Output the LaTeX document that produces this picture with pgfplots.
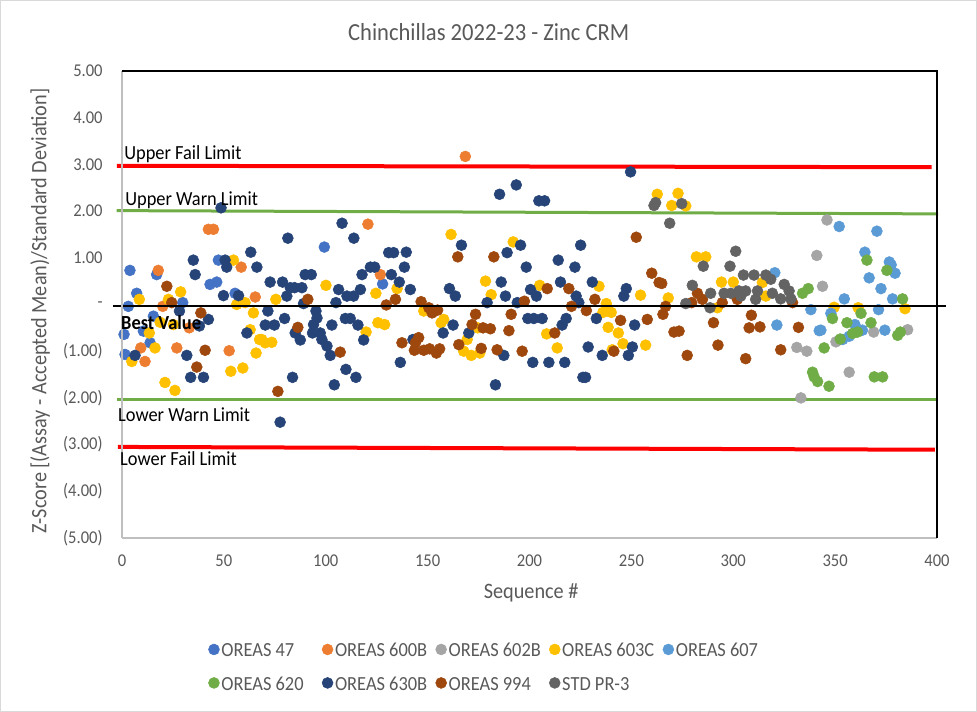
\documentclass[border=0pt]{standalone}
\usepackage{pgfplots}
\pgfplotsset{compat=1.18}
\usepackage{fontspec}
\setmainfont{Carlito}[FakeStretch=0.92]
\definecolor{cA}{HTML}{4472C4}
\definecolor{cB}{HTML}{ED7D31}
\definecolor{cC}{HTML}{A5A5A5}
\definecolor{cD}{HTML}{FFC000}
\definecolor{cE}{HTML}{5B9BD5}
\definecolor{cF}{HTML}{70AD47}
\definecolor{cG}{HTML}{264478}
\definecolor{cH}{HTML}{9E480E}
\definecolor{cI}{HTML}{636363}
\definecolor{txtgray}{HTML}{595959}
\definecolor{axgray}{HTML}{BFBFBF}
\definecolor{bordergray}{HTML}{D9D9D9}
\definecolor{limred}{HTML}{FF0000}
\definecolor{limgreen}{HTML}{70AD47}
\newcommand{\legtxt}[1]{\makebox[74pt][l]{\strut #1}}
\begin{document}
\begin{tikzpicture}
\begin{axis}[
  set layers,
  scale only axis, width=611.25pt, height=350.25pt,
  xmin=0, xmax=400, ymin=-5, ymax=5,
  clip=false,
  axis line style={draw=none},
  xtick={0,50,...,400}, ytick={-5,-4,...,5},
  yticklabels={(5.00),(4.00),(3.00),(2.00),(1.00),-,1.00,2.00,3.00,4.00,5.00},
  major tick length=0pt,
  /pgf/number format/assume math mode=true,
  tick label style={font=\fontsize{13.5}{16}\selectfont, text=txtgray},
  xticklabel style={yshift=-9pt},
  yticklabel style={xshift=-11pt},
  title={Chinchillas 2022-23 - Zinc CRM},
  title style={at={(axis description cs:0.450,1.0835)}, anchor=center, yshift=-6pt, font=\fontsize{18.4}{22}\selectfont, text=txtgray},
  xlabel={Sequence \#},
  xlabel style={at={(axis description cs:0.502,-0.1178)}, anchor=center, font=\fontsize{16.5}{20}\selectfont, text=txtgray},
  ylabel={Z-Score [(Assay - Accepted Mean)/Standard Deviation]},
  ylabel style={at={(axis description cs:-0.1006,0.486)}, anchor=center, font=\fontsize{16.5}{20}\selectfont, text=txtgray},
  legend columns=5,
  legend style={at={(axis description cs:0.4546,-0.2745)}, anchor=center, draw=none, fill=none,
    font=\fontsize{15}{18}\selectfont, text=txtgray, nodes={inner sep=1.5pt}, row sep=8pt},
  legend image code/.code={\draw[#1] plot coordinates {(0pt,0pt)};},
  every axis plot/.append style={only marks, mark=*, mark size=4.1pt},
]
% limit lines (drawn beneath the points)
\addplot[forget plot, no markers, sharp plot, draw=limred, line width=3pt] coordinates {(-2.5,2.97) (397.4,2.94)};
\addplot[forget plot, no markers, sharp plot, draw=limgreen, line width=2.25pt] coordinates {(-2.6,2.01) (400.5,1.94)};
\addplot[forget plot, no markers, sharp plot, draw=limgreen, line width=2.25pt] coordinates {(-2.6,-2.03) (400.5,-2.03)};
\addplot[forget plot, no markers, sharp plot, draw=limred, line width=3pt] coordinates {(-2.0,-3.05) (399.0,-3.11)};

\addplot[mark options={draw=cA, fill=cA}] coordinates {
(3.9,0.73) (17,0.64) (47.3,0.95) (43.2,0.43) (46.5,0.48) (7.2,0.24) (55.5,0.24) (3.1,-0.04)
(29.8,0.04) (15.4,-0.25) (1,-0.64) (10.5,-0.57) (13.8,-0.82) (1.5,-1.07) (99.3,1.23) (127.9,0.44)};
\addlegendentry{\legtxt{OREAS 47}}
\addplot[mark options={draw=cB, fill=cB}] coordinates {
(42.4,1.61) (44.9,1.61) (17.8,0.73) (65.4,0.16) (20,-0.04) (33,-0.50) (9.2,-0.93) (26.9,-0.93)
(52.6,-0.99) (11.3,-1.22) (120.7,1.72) (126.8,0.64) (168.5,3.17) (58.5,0.80)};
\addlegendentry{\legtxt{OREAS 600B}}
\addplot[mark options={draw=cC, fill=cC}] coordinates {
(346,1.81) (341,1.05) (343.8,0.39) (331.2,-0.92) (336.1,-1.00) (333.2,-2.00) (350.4,-0.80)
(356.9,-1.45) (368.9,-0.59) (385.6,-0.54)};
\addlegendentry{\legtxt{OREAS 602B}}
\addplot[mark options={draw=cD, fill=cD}] coordinates {
(8.5,0.11) (28.8,0.27) (54.7,0.95) (22.8,0.11) (56.3,0) (60.4,0.04) (64.5,-0.18) (18.7,-0.38)
(25.2,-0.43) (13.4,-0.61) (62.9,-0.54) (67.5,-0.75) (16.2,-0.93) (65.8,-1.04) (4.8,-1.22)
(53.4,-1.43) (59.3,-1.36) (21.1,-1.67) (26,-1.84)
(100.1,0.41) (75.5,0.11) (135,0.34) (124.6,0.24) (125.6,-0.39) (128.9,-0.43) (119.8,-0.59)
(68.6,-0.75) (70.3,-0.82) (73.5,-0.81)
(161.5,1.50) (192,1.34) (178.4,0.50) (181.2,0.21) (205,0.41) (148.1,-0.14) (157.9,-0.32)
(156.6,-0.39) (174.6,-0.50) (169.4,-0.75) (167.7,-1.00) (171.4,-1.09) (175.6,-1.04) (208.4,-0.63)
(262.7,2.36) (272.9,2.38) (269.8,2.12) (276.7,2.11) (281.9,1.02) (234.1,0.39) (254.5,0.20)
(268.1,0.14) (237.7,0.02) (236,-0.17) (240.1,-0.17) (238.6,-0.49) (243.6,-0.61) (245.9,-0.84)
(240.6,-0.97) (257,-0.87) (213.6,-0.93)
(286.5,1.02) (294.2,0.48) (300,0.48) (314.3,0.47) (316,0.18) (292.2,-0.07)
(384.3,-0.09) (349.5,-0.06) (361.3,-0.07)};
\addlegendentry{\legtxt{OREAS 603C}}
\addplot[mark options={draw=cE, fill=cE}] coordinates {
(320.4,0.68) (338.1,-0.11) (321.4,-0.44) (342.2,-0.56) (352,1.67) (370.5,1.57) (364.6,1.12)
(376.6,0.91) (379.4,0.67) (377.5,0.85) (366.7,0.57) (372.5,0.34) (354.5,0.12) (378.2,0.12)
(347.9,-0.19) (371.3,-0.11) (359.7,-0.43) (363.4,-0.55) (343,-0.55) (374.4,-0.55) (353.7,-0.75)
(356.9,-0.68)};
\addlegendentry{\legtxt{OREAS 607}}
\addplot[mark options={draw=cF, fill=cF}] coordinates {
(334,0.24) (336.8,0.34) (338.9,-1.45) (339.7,-1.55) (341.4,-1.65) (347,-1.75) (365.6,0.95)
(375.4,0.73) (383.1,0.12) (348.7,-0.30) (362.7,-0.19) (355.8,-0.39) (367.6,-0.39) (382,-0.59)
(380.7,-0.66) (358.6,-0.62) (361,-0.59) (352.5,-0.74) (344.6,-0.93) (369.2,-1.55) (373.3,-1.55)};
\addlegendentry{\legtxt{OREAS 620}}
\addplot[mark options={draw=cG, fill=cG}] coordinates {
(48.6,2.07) (35,0.95) (35.9,0.64) (50.6,0.95) (51.4,0.80) (63.2,1.12) (66.2,0.80) (49.8,0.19)
(57.2,0.19) (28.2,-0.14) (42.4,-0.32) (38,-0.46) (61.3,-0.61) (31.8,-1.09) (6.4,-1.09)
(33.7,-1.56) (40,-1.56)
(108,1.74) (81.4,1.42) (113.8,1.42) (130.9,1.11) (133.3,1.11) (121.9,0.80) (124,0.80)
(132.2,0.64) (89.9,0.64) (92.9,0.64) (117.8,0.64) (136.1,0.48) (72.7,0.48) (78.8,0.48)
(82.6,0.36) (84.7,0.36) (88.3,0.36) (80.9,0.18) (106.3,0.32) (110.4,0.18) (113.7,0.18)
(117,0.32) (89.1,0.02) (105,0.04) (71.6,-0.14) (95.2,-0.14) (95.7,-0.29) (79.8,-0.30)
(109.6,-0.30) (112,-0.30) (115.8,-0.44) (103,-0.44) (70.3,-0.44) (74.8,-0.44) (94,-0.43)
(93.5,-0.61) (97.3,-0.61) (98.1,-0.75) (100.6,-0.89) (102.2,-1.09) (85,-0.61) (87.5,-0.76)
(118.6,-0.76) (136.6,-1.24) (109.9,-1.39) (114.8,-1.56) (83.7,-1.56) (104.2,-1.72) (77.6,-2.52)
(185.3,2.36) (193.5,2.56) (204.6,2.22) (207.4,2.22) (166.6,1.27) (139.5,1.12) (138.6,0.80)
(141.5,0.32) (195.6,1.27) (189,1.11) (198.4,0.80) (186.1,0.48) (188.2,0.18) (160.7,0.34)
(163.6,0.18) (179.2,0.04) (194,0.04) (200.5,0.32) (203.4,0.18) (162.5,-0.44) (157.6,-0.61)
(170.2,-0.61) (199.2,-0.30) (202.1,-0.30) (206.2,-0.30) (187.4,-1.09) (201.6,-1.24)
(209.5,-1.24) (142.8,-0.75) (183.3,-1.72)
(249.6,2.84) (225.1,1.27) (214.1,0.95) (222.3,0.80) (215.2,0.48) (230.8,0.48) (247.5,0.34)
(246.3,0.18) (222.9,0.18) (224.2,0.04) (232.8,-0.30) (218,-0.30) (216,-0.44) (251.6,-0.44)
(250.5,-0.91) (248.5,-1.09) (235.7,-1.09) (228.8,-0.91) (217.3,-1.24) (226.2,-1.56) (227.5,-1.56)};
\addlegendentry{\legtxt{OREAS 630B}}
\addplot[mark options={draw=cH, fill=cH}] coordinates {
(22,0.39) (24.4,0.04) (38.7,-0.18) (40.8,-0.98) (36.7,-1.34)
(91.2,0.11) (129.7,-0.01) (134.2,0.11) (86.3,-0.49) (137.4,-0.82) (107.1,-1.02) (76.5,-1.86)
(164.8,1.02) (182.5,1.02) (197.5,0.07) (208.7,0.34) (146.8,0.06) (150.6,-0.07) (152.2,-0.18)
(154.9,-0.12) (173.5,-0.21) (171.8,-0.43) (177.2,-0.50) (180.8,-0.52) (165.3,-0.86)
(176.3,-0.94) (191,-0.21) (189.9,-0.56) (184.1,-0.97) (196.4,-1.00) (144,-0.82) (145.6,-0.71)
(143.5,-0.98) (148.1,-0.98) (151,-0.95) (154.3,-1.04) (155.9,-0.95)
(252.4,1.44) (260,0.67) (263.6,0.47) (264.9,0.45) (219.3,0.34) (279.6,0.04) (220.6,-0.04)
(232.1,0.11) (227.9,-0.13) (266.8,-0.04) (265.5,-0.21) (257.8,-0.32) (244.7,-0.34)
(241.4,-1.00) (270.9,-0.59) (273.4,-0.57) (277.4,-1.09) (212.4,-0.61)
(282.4,0.24) (284.9,0.11) (302,0.11) (294.6,0.04) (329.1,0.04) (308.9,-0.23) (290.3,-0.39)
(307.8,-0.50) (313.1,-0.48) (332,-0.49) (292.5,-0.87) (306.1,-1.16) (323.3,-0.97)};
\addlegendentry{\legtxt{OREAS 994}}
\addplot[mark options={draw=cI, fill=cI}] coordinates {
(261.1,2.12) (261.9,2.18) (274.7,2.16) (268.8,1.74) (279.9,0.41) (276.7,0.02) (285.3,0.82)
(301.2,1.14) (298.4,0.82) (305,0.63) (310.2,0.63) (316,0.63) (318.4,0.54) (325,0.43)
(288.9,0.24) (295.5,0.24) (298.8,0.24) (302.8,0.29) (306.1,0.29) (311.9,0.29) (303.7,0.18)
(311,0.11) (319.2,0.24) (327.4,0.29) (323.3,0.12) (328.3,0.12) (288.6,-0.07)};
\addlegendentry{\legtxt{STD PR-3}}

% best value line on top of the points
\addplot[forget plot, on layer=axis foreground, no markers, sharp plot, draw=black, line width=1.5pt] coordinates {(-4.4,-0.04) (404.4,-0.04)};

\begin{pgfonlayer}{axis foreground}
% plot area frame
\draw[axgray, line width=0.9pt] (rel axis cs:0,0) -- (rel axis cs:0,1);
\draw[axgray, line width=0.9pt] (rel axis cs:0,0) -- (rel axis cs:1,0);
\draw[black, line width=1.1pt] (rel axis cs:0,1) -- (rel axis cs:1,1) -- (rel axis cs:1,0);
% data labels of the limit lines
\node[anchor=west, inner sep=0pt, font=\fontsize{15}{18}\selectfont] at (axis cs:1.0,3.22) {Upper Fail Limit};
\node[anchor=west, inner sep=0pt, font=\fontsize{15}{18}\selectfont] at (axis cs:1.5,2.24) {Upper Warn Limit};
\node[anchor=west, inner sep=0pt, font=\fontsize{15}{18}\selectfont\bfseries] at (axis cs:-0.5,-0.38) {Best Value};
\node[anchor=west, inner sep=0pt, font=\fontsize{15}{18}\selectfont] at (axis cs:-2.0,-2.36) {Lower Warn Limit};
\node[anchor=west, inner sep=0pt, font=\fontsize{15}{18}\selectfont] at (axis cs:-1.0,-3.29) {Lower Fail Limit};
\end{pgfonlayer}
\end{axis}
\pgfresetboundingbox
\draw[bordergray, line width=0.75pt] (-91.1pt,-130.1pt) rectangle (640.85pt,403.1pt);
\useasboundingbox (-91.5pt,-130.5pt) rectangle (641.25pt,403.5pt);
\end{tikzpicture}
\end{document}
